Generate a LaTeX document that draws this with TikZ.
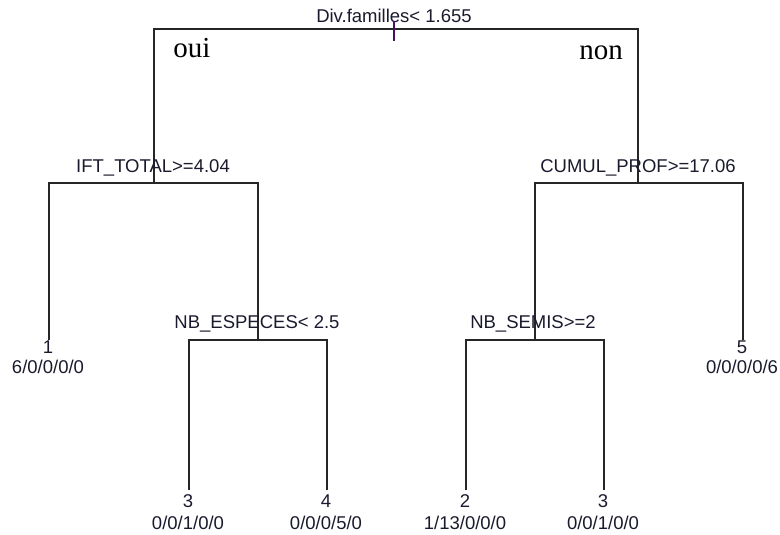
\documentclass[tikz,border=0pt]{standalone}
\usepackage{fontspec}
\setmainfont{Liberation Sans}
\newfontfamily\serifface{Liberation Serif}
\definecolor{linec}{HTML}{262626}
\definecolor{textc}{HTML}{1A1A2E}
\definecolor{tickc}{HTML}{4A1060}
\begin{document}
\begin{tikzpicture}[x=1pt,y=-1pt,
  branch/.style={draw=linec,line width=1.3pt},
  lab/.style={font=\fontsize{18.5}{18.5}\selectfont,text=textc,inner sep=0pt,anchor=center},
  yesno/.style={font=\serifface\fontsize{29}{29}\selectfont,text=black,inner sep=0pt,anchor=base}]
\useasboundingbox (0,0) rectangle (780,535);
% split / leaf points
\coordinate (R) at (394,29);
\coordinate (A) at (154,183);
\coordinate (B) at (638,183);
\coordinate (A1) at (49,340);
\coordinate (A2) at (258,340);
\coordinate (B1) at (535,340);
\coordinate (B2) at (743,340);
\coordinate (A21) at (189,490);
\coordinate (A22) at (327,490);
\coordinate (B11) at (466,490);
\coordinate (B12) at (604,490);
% branches
\draw[branch] (A) |- (R) -| (B);
\draw[branch] (A1) |- (A) -| (A2);
\draw[branch] (B1) |- (B) -| (B2);
\draw[branch] (A21) |- (A2) -| (A22);
\draw[branch] (B11) |- (B1) -| (B12);
% split labels
\node[lab] (lR) at (394,16) {Div.familles< 1.655};
\draw[draw=tickc,line width=1.3pt] (394,21) -- (R) -- (394,41);
\node[lab] (lA) at (153,168) {IFT\_TOTAL>=4.04};
\node[lab] (lB) at (638,168) {CUMUL\_PROF>=17.06};
\node[lab] (lA2) at (257,324) {NB\_ESPECES< 2.5};
\node[lab] (lB1) at (533,324) {NB\_SEMIS>=2};
% leaf labels
\node[lab] (n1) at (48,347) {1};
\node[lab] (d1) at (48,367) {6/0/0/0/0};
\node[lab] (n5) at (742,347) {5};
\node[lab] (d5) at (742,367) {0/0/0/0/6};
\node[lab] (n3a) at (188,501) {3};
\node[lab] (d3a) at (188,523) {0/0/1/0/0};
\node[lab] (n4) at (326,501) {4};
\node[lab] (d4) at (326,523) {0/0/0/5/0};
\node[lab] (n2) at (465,501) {2};
\node[lab] (d2) at (465,523) {1/13/0/0/0};
\node[lab] (n3b) at (603,501) {3};
\node[lab] (d3b) at (603,523) {0/0/1/0/0};
% oui / non
\node[yesno] (oui) at (192,58) {oui};
\node[yesno] (non) at (601,60) {non};
\end{tikzpicture}
\end{document}
